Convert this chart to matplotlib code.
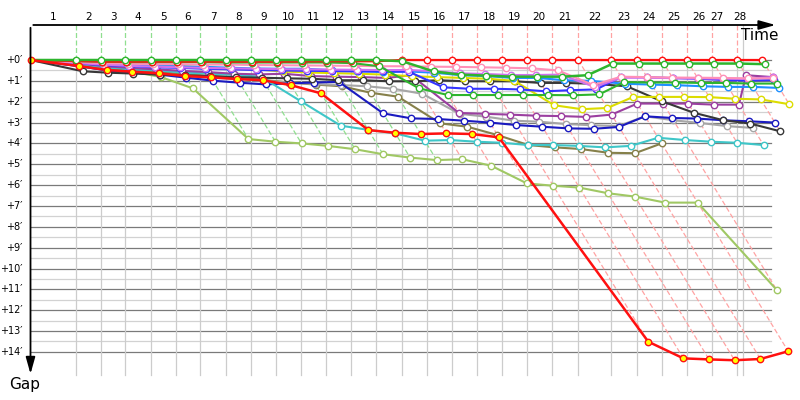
import matplotlib
matplotlib.use("Agg")
import matplotlib.pyplot as plt
import numpy as np

# leader's lap crossing times (minutes from start)
lap_times = [3.56, 5.53, 7.46, 9.46, 11.43, 13.37, 15.37, 17.34, 19.31, 21.28,
             23.24, 25.21, 27.18, 29.23, 31.20, 33.17, 35.13, 37.10, 39.07, 41.04,
             43.13, 45.69, 47.73, 49.70, 51.67, 53.64, 55.61, 57.62]
finish_time = 56.13
green_led_laps = 13
lap_labels = [str(i) for i in range(1, 29)]
gap_ticks = list(range(0, 15))

# gap to leader (minutes) at each lap, lap 0 = start
gap_green1 = [0, 0, 0, 0, 0, 0, 0, 0, 0, 0, 0, 0, 0, 0, 0.06, 0.55, 0.7, 0.75, 0.8, 0.8,
              0.8, 0.73, 0.17, 0.17, 0.17, 0.17, 0.17, 0.17, 0.2]
gap_green2 = [0, 0.05, 0.08, 0.1, 0.1, 0.1, 0.1, 0.12, 0.12, 0.12, 0.12, 0.12, 0.15, 0.3,
              1.36, 1.68, 1.68, 1.68, 1.68, 1.68, 1.69, 1.65, 1.06, 1.08, 1.08, 1.1, 1.1,
              1.13, 1.13]
gap_red = [0, 0.05, 0.08, 0.08, 0.08, 0.08, 0.08, 0.08, 0.08, 0.08, 0.07, 0.06, 0.06, 0.06,
           0, 0, 0, 0, 0, 0, 0, 0, 0, 0, 0, 0, 0, 0, 0]
gap_red_yellow = [0, 0.29, 0.48, 0.56, 0.64, 0.77, 0.83, 0.91, 0.97, 1.21, 1.6, 3.36, 3.49,
                  3.55, 3.52, 3.55, 3.71, 13.51, 14.31, 14.36, 14.4, 14.34, 13.97]
gap_lime = [0, 0.2, 0.4, 0.55, 0.82, 1.36, 3.79, 3.92, 4.0, 4.12, 4.28, 4.52, 4.68, 4.8,
            4.76, 5.07, 5.92, 6.03, 6.12, 6.39, 6.55, 6.84, 6.84, 11.03]
gap_cyan = [0, 0.2, 0.35, 0.45, 0.5, 0.6, 0.65, 0.72, 0.8, 1.98, 3.15, 3.35, 3.52, 3.87,
            3.84, 3.92, 3.97, 4.08, 4.08, 4.12, 4.19, 4.12, 3.73, 3.84, 3.92, 3.97, 4.08]
gap_olive = [0, 0.25, 0.4, 0.5, 0.58, 0.68, 0.75, 0.85, 0.95, 1.08, 1.18, 1.26, 1.57, 1.76,
             3.04, 3.2, 3.6, 4.08, 4.19, 4.27, 4.45, 4.47, 4.0]
gap_navy = [0, 0.3, 0.5, 0.6, 0.7, 0.85, 0.99, 1.09, 1.17, 1.12, 1.08, 1.05, 2.56, 2.8, 2.83,
            2.91, 3.0, 3.12, 3.2, 3.28, 3.3, 3.21, 2.7, 2.78, 2.81, 2.89, 2.94, 3.0]
gap_gray = [0, 0.3, 0.5, 0.6, 0.68, 0.78, 0.85, 0.92, 1.0, 1.08, 1.15, 1.2, 1.26, 1.38, 1.62,
            2.58, 2.72, 2.91, 2.96, 3.07, 3.13, 3.17, 2.7, 2.89, 3.02, 3.17, 3.26]
gap_purple = [0, 0.15, 0.3, 0.38, 0.45, 0.52, 0.58, 0.66, 0.69, 0.66, 0.77, 0.8, 0.82, 0.86,
              0.73, 2.54, 2.58, 2.62, 2.67, 2.69, 2.73, 2.62, 2.09, 2.09, 2.09, 2.14, 2.14,
              0.73, 0.82]
gap_black = [0, 0.54, 0.61, 0.65, 0.7, 0.74, 0.78, 0.82, 0.85, 0.88, 0.9, 0.97, 0.97, 1.02,
             1.02, 0.97, 1.02, 1.02, 1.02, 1.1, 1.1, 1.14, 1.26, 1.98, 2.53, 2.89, 3.05, 3.42]
gap_yellow = [0, 0.1, 0.15, 0.2, 0.25, 0.29, 0.35, 0.42, 0.45, 0.55, 0.6, 0.63, 0.66, 0.7,
              0.78, 0.82, 0.86, 0.9, 1.0, 2.17, 2.36, 2.3, 1.77, 1.77, 1.77, 1.78, 1.86, 1.89,
              2.12]
gap_skyblue = [0, 0.12, 0.18, 0.22, 0.27, 0.3, 0.33, 0.37, 0.41, 0.42, 0.42, 0.49, 0.53, 0.58,
               0.55, 0.61, 0.73, 0.77, 0.86, 0.86, 0.97, 1.0, 1.14, 1.18, 1.21, 1.26, 1.29,
               1.29, 1.34]
gap_pink = [0, 0.1, 0.15, 0.18, 0.2, 0.2, 0.22, 0.22, 0.24, 0.25, 0.26, 0.27, 0.28, 0.3, 0.3,
            0.32, 0.33, 0.35, 0.37, 0.4, 0.5, 1.2, 0.8, 0.82, 0.84, 0.85, 0.86, 0.88, 0.88]
gap_violet = [0, 0.15, 0.22, 0.28, 0.32, 0.35, 0.38, 0.4, 0.42, 0.44, 0.45, 0.46, 0.47, 0.48,
              0.48, 0.53, 0.64, 0.67, 0.72, 0.72, 0.7, 1.29, 0.85, 0.85, 0.87, 0.88, 0.9, 0.9,
              0.82]
gap_blue = [0, 0.15, 0.25, 0.3, 0.35, 0.38, 0.42, 0.45, 0.48, 0.5, 0.52, 0.53, 0.55, 0.55,
            0.56, 1.31, 1.38, 1.38, 1.41, 1.5, 1.45, 1.41, 0.82, 0.82, 0.87, 0.9, 0.96, 0.99,
            0.96]

# drawing order: bottom first
cars = [
    (gap_lime, "#a0c864", "white", 1.5),
    (gap_olive, "#86804a", "white", 1.5),
    (gap_gray, "#a6a6a6", "white", 1.5),
    (gap_navy, "#1a1ac0", "white", 1.5),
    (gap_cyan, "#3ec6c8", "white", 1.5),
    (gap_purple, "#9b3fa0", "white", 1.5),
    (gap_black, "#383838", "white", 1.5),
    (gap_yellow, "#dcdc00", "white", 1.5),
    (gap_skyblue, "#1e90ff", "white", 1.5),
    (gap_blue, "#3434ff", "white", 1.5),
    (gap_violet, "#d070f0", "white", 1.5),
    (gap_pink, "#ff90b8", "white", 1.5),
    (gap_green2, "#2db52d", "white", 1.5),
    (gap_red, "#ff1010", "white", 1.6),
    (gap_green1, "#2db52d", "white", 1.8),
    (gap_red_yellow, "#ff1010", "#ffff00", 1.8),
]

# pixel geometry of the original figure
X0, SX = 30.5, 12.7     # px of start, px per minute along time
Y0, SY = 60.0, 20.85    # px of +0', px per minute of gap
top = (25 - Y0) / SY
grid_bottom = (375 - Y0) / SY
grid_right = (770.7 - X0) / SX

fig = plt.figure(figsize=(8, 4), dpi=100)
ax = fig.add_axes([0, 0, 1, 1])
ax.set_xlim(-X0 / SX, (800 - X0) / SX)
ax.set_ylim((400 - Y0) / SY, -Y0 / SY)
ax.axis("off")

times = np.array([0.0] + lap_times)

# horizontal grid
for g in gap_ticks:
    ax.plot([0, grid_right], [g, g], color="#7a7a7a", lw=0.9, zorder=1)
    if g < 14:
        ax.plot([0, grid_right], [g + 0.5, g + 0.5], color="#d2d2d2", lw=0.9, zorder=1)
# vertical grid at lap times
for t in lap_times[:-1]:
    ax.plot([t, t], [0, grid_bottom], color="#cccccc", lw=0.9, zorder=1)
ax.plot([finish_time, finish_time], [top, grid_bottom], color="#cccccc", lw=0.9, zorder=1)

# lap lines: vertical above the leader, diagonal down to the last car
all_gaps = [c[0] for c in cars]
for k, t in enumerate(lap_times, start=1):
    col = "#8fdf8f" if k <= green_led_laps else "#ffa3a3"
    if k < len(lap_times):
        ax.plot([t, t], [top, 0], color=col, lw=0.9, ls=(0, (4, 2)), zorder=2)
    gmax = max(g[k] for g in all_gaps if len(g) > k)
    ax.plot([t, t + gmax], [0, gmax], color=col, lw=0.9, ls=(0, (4, 2)), zorder=2)

# cars
z = 3
for gaps, color, face, lw in cars:
    g = np.array(gaps)
    x = times[:len(g)] + g
    mk = slice(0, None) if face != "white" else slice(1, None)
    ax.plot(x, g, color=color, lw=lw, marker="o", ms=4.6, mfc=face, mec=color,
            mew=1.0, markevery=mk, zorder=z)
    z += 1

# axes with arrows
ax.annotate("", xy=((778.3 - X0) / SX, top), xytext=(0, top),
            arrowprops=dict(arrowstyle="-|>,head_length=1.0,head_width=0.28",
                            lw=1.3, color="black", mutation_scale=10), zorder=40)
ax.annotate("", xy=(0, (376.7 - Y0) / SY), xytext=(0, top),
            arrowprops=dict(arrowstyle="-|>,head_length=1.0,head_width=0.28",
                            lw=1.3, color="black", mutation_scale=10), zorder=40)

# lap numbers
starts = [0.0] + lap_times[:-1]
ends = lap_times[:-2] + [lap_times[-2], finish_time]
for i, lab in enumerate(lap_labels):
    xm = (starts[i] + ends[i]) / 2
    if i == 26:
        xm -= 0.55
    ax.text(xm, (17 - Y0) / SY, lab, ha="center", va="center", fontsize=7.5,
            family="DejaVu Sans")

for g in gap_ticks:
    ax.text((22.5 - X0) / SX, g, f"+{g}\u2032", ha="right", va="center", fontsize=7,
            family="DejaVu Sans")

ax.text((760 - X0) / SX, (35 - Y0) / SY, "Time", ha="center", va="center", fontsize=11)
ax.text((25 - X0) / SX, (385 - Y0) / SY, "Gap", ha="center", va="center", fontsize=11)

fig.savefig("out.png", dpi=100)
